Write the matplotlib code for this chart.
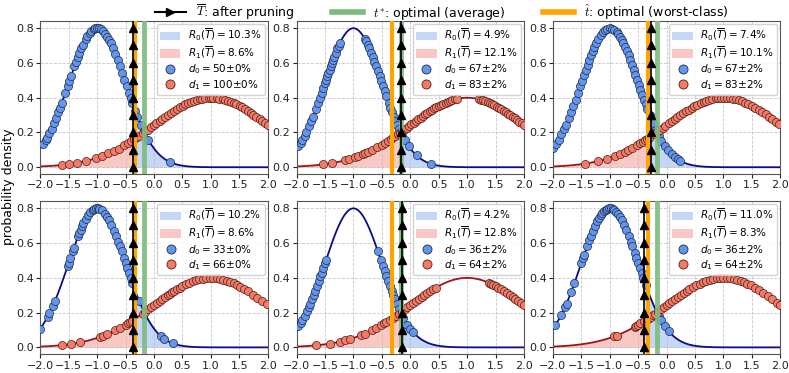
# =========================
# 1. IMPORT LIBRARIES
# =========================
import numpy as np
import matplotlib.pyplot as plt
from matplotlib.lines import Line2D
from matplotlib.patches import Patch
from matplotlib.font_manager import FontProperties


# =========================
# 2. DATA
# =========================
mu0, sd0 = -1.0, 0.5      # class 0 density
mu1, sd1 = 1.0, 1.0       # class 1 density
t_star = -0.17            # optimal (average)
t_hat = -0.33             # optimal (worst-class)

t_bar = [-0.37, -0.17, -0.28, -0.37, -0.14, -0.39]
r0_text = ["10.3", "4.9", "7.4", "10.2", "4.2", "11.0"]
r1_text = ["8.6", "12.1", "10.1", "8.6", "12.8", "8.3"]
d0_text = ["50{\\pm}0", "67{\\pm}2", "67{\\pm}2", "33{\\pm}0", "36{\\pm}2", "36{\\pm}2"]
d1_text = ["100{\\pm}0", "83{\\pm}2", "83{\\pm}2", "66{\\pm}0", "64{\\pm}2", "64{\\pm}2"]

x0_p1 = [-1.95, -1.9, -1.88, -1.84, -1.8, -1.76, -1.72, -1.68, -1.65, -1.62,
         -1.56, -1.52, -1.49, -1.46, -1.4, -1.37, -1.34, -1.31, -1.28, -1.25,
         -1.2, -1.17, -1.13, -1.1, -1.06, -1.03, -1.0, -0.97, -0.94, -0.9,
         -0.86, -0.82, -0.79, -0.76, -0.72, -0.68, -0.64, -0.6, -0.56, -0.52,
         -0.48, -0.44, -0.41, -0.38, -0.33, -0.29, -0.23, -0.18, -0.1, 0.28]
x1_p1 = [-1.62, -1.5, -1.36, -1.2, -1.02, -0.92, -0.8, -0.7, -0.62, -0.52,
         -0.45, -0.4, -0.35, -0.3, -0.26, -0.2, -0.15, -0.11, -0.05, 0.0,
         0.04, 0.1, 0.15, 0.19, 0.25, 0.3, 0.36, 0.4, 0.45, 0.51, 0.55, 0.6,
         0.66, 0.7, 0.75, 0.81, 0.85, 0.9, 0.96, 1.0, 1.04, 1.1, 1.15, 1.21,
         1.25, 1.3, 1.36, 1.4, 1.45, 1.51, 1.55, 1.6, 1.66, 1.7, 1.75, 1.8,
         1.86, 1.9, 1.95, 2.0]

x0_p2 = [-1.97, -1.93, -1.9, -1.86, -1.83, -1.78, -1.74, -1.71, -1.66, -1.62,
         -1.59, -1.56, -1.53, -1.5, -1.48, -1.46, -1.44, -1.42, -1.4, -1.38,
         -1.36, -1.34, -1.31, -1.28, -1.26, -1.24, -0.8, -0.78, -0.75, -0.72,
         -0.69, -0.66, -0.63, -0.6, -0.57, -0.54, -0.51, -0.48, -0.45, -0.42,
         -0.38, -0.35, -0.32, -0.29, -0.26, -0.23, -0.2, -0.17, -0.14, -0.1,
         -0.03, 0.11, 0.36]
x1_p2 = [-1.53, -1.38, -1.15, -1.08, -0.98, -0.92, -0.84, -0.79, -0.74, -0.68,
         -0.58, -0.5, -0.44, -0.39, -0.34, -0.3, -0.26, -0.22, -0.18, -0.14,
         -0.1, -0.06, -0.02, 0.02, 0.06, 0.1, 0.14, 0.18, 0.22, 0.26, 0.3,
         0.34, 0.38, 0.42, 0.46, 0.5, 0.54, 0.58, 0.62, 0.66, 0.7, 0.74, 0.78,
         0.82, 1.2, 1.24, 1.28, 1.32, 1.36, 1.4, 1.44, 1.48, 1.52, 1.56, 1.6,
         1.64, 1.68, 1.72, 1.76, 1.8, 1.84, 1.88, 1.92, 1.96, 2.0]

x0_p3 = [-1.99, -1.95, -1.9, -1.85, -1.8, -1.77, -1.72, -1.68, -1.64, -1.6,
         -1.56, -1.52, -1.49, -1.45, -1.42, -1.39, -1.36, -1.33, -1.3, -1.27,
         -1.24, -1.2, -1.16, -1.12, -1.08, -1.04, -1.0, -0.96, -0.92, -0.88,
         -0.85, -0.82, -0.79, -0.76, -0.73, -0.7, -0.67, -0.64, -0.61, -0.58,
         -0.55, -0.52, -0.49, -0.46, -0.43, -0.4, -0.37, -0.34, -0.3, -0.27,
         -0.24, -0.19, -0.14, -0.09, -0.03, 0.02, 0.09, 0.15, 0.2, 0.24]
x1_p3 = [-1.44, -1.2, -1.05, -0.9, -0.82, -0.74, -0.68, -0.6, -0.52, -0.46,
         -0.42, -0.38, -0.35, -0.31, -0.22, -0.17, -0.12, -0.07, -0.02, 0.04,
         0.09, 0.14, 0.19, 0.24, 0.29, 0.34, 0.39, 0.44, 0.49, 0.54, 0.6,
         0.65, 0.7, 0.75, 0.8, 0.86, 0.91, 0.96, 1.01, 1.06, 1.11, 1.16, 1.22,
         1.27, 1.32, 1.38, 1.44, 1.5, 1.56, 1.62, 1.68, 1.74, 1.8, 1.86, 1.92,
         1.98]

x0_p4 = [-2.0, -1.87, -1.84, -1.78, -1.74, -1.52, -1.5, -1.47, -1.43, -1.41,
         -1.33, -1.31, -1.29, -1.26, -1.24, -1.2, -1.16, -1.12, -1.08, -1.05,
         -1.02, -0.99, -0.96, -0.92, -0.86, -0.82, -0.79, -0.75, -0.7, -0.67,
         -0.63, -0.6, -0.57, -0.53, -0.5, -0.47, -0.44, -0.41, -0.38, -0.26,
         0.12, 0.18, 0.33]
x1_p4 = [-1.62, -1.46, -1.3, -0.95, -0.9, -0.82, -0.68, -0.6, -0.5, -0.46,
         -0.42, -0.38, -0.2, -0.15, -0.1, -0.05, 0.0, 0.05, 0.1, 0.15, 0.2,
         0.24, 0.28, 0.32, 0.36, 0.4, 0.45, 0.5, 0.56, 0.62, 0.68, 0.74, 0.8,
         0.86, 0.92, 0.98, 1.04, 1.1, 1.16, 1.22, 1.28, 1.34, 1.4, 1.46, 1.52,
         1.58, 1.66, 1.74, 1.82, 1.9, 1.98]

x0_p5 = [-1.97, -1.93, -1.9, -1.86, -1.82, -1.79, -1.76, -1.73, -1.7, -1.67,
         -1.64, -1.61, -1.58, -1.56, -1.53, -1.5, -1.48, -0.57, -0.52, -0.48,
         -0.45, -0.42, -0.39, -0.36, -0.33, -0.3, -0.27, -0.24, -0.2, -0.16,
         -0.12, -0.05, 0.0, 0.05]
x1_p5 = [-1.65, -1.41, -1.24, -1.14, -1.06, -0.86, -0.8, -0.68, -0.6, -0.52,
         -0.46, -0.42, -0.36, -0.3, -0.25, -0.2, -0.15, -0.1, -0.05, 0.0,
         0.05, 0.1, 0.15, 0.2, 0.25, 0.3, 0.35, 0.4, 0.45, 1.38, 1.42, 1.46,
         1.5, 1.55, 1.6, 1.65, 1.7, 1.75, 1.8, 1.85, 1.9, 1.95, 2.0]

x0_p6 = [-1.96, -1.85, -1.79, -1.76, -1.68, -1.62, -1.5, -1.47, -1.45, -1.4,
         -1.36, -1.33, -1.3, -1.26, -1.22, -1.19, -1.16, -1.13, -1.1, -1.07,
         -1.04, -1.01, -0.98, -0.95, -0.92, -0.89, -0.86, -0.82, -0.79, -0.75,
         -0.71, -0.67, -0.63, -0.6, -0.56, -0.53, -0.5, -0.47, -0.44, -0.41,
         -0.37, -0.14, -0.1, -0.03, 0.04]
x1_p6 = [-0.92, -0.88, -0.56, -0.53, -0.5, -0.46, -0.4, -0.33, -0.28, -0.24,
         -0.2, -0.15, -0.1, -0.05, 0.0, 0.05, 0.1, 0.15, 0.2, 0.25, 0.3, 0.35,
         0.4, 0.46, 0.52, 0.58, 0.64, 0.7, 0.76, 0.82, 0.88, 0.94, 1.0, 1.06,
         1.12, 1.18, 1.24, 1.3, 1.36, 1.42, 1.48, 1.55, 1.62, 1.7, 1.78, 1.86,
         1.94, 2.0]

points0 = [x0_p1, x0_p2, x0_p3, x0_p4, x0_p5, x0_p6]
points1 = [x1_p1, x1_p2, x1_p3, x1_p4, x1_p5, x1_p6]


# =========================
# 3. HELPERS
# =========================
def pdf(x, mu, sd):
    x = np.asarray(x, dtype=float)
    return np.exp(-0.5 * ((x - mu) / sd) ** 2) / (sd * np.sqrt(2 * np.pi))


blue_pt = "#6495ED"
red_pt = "#F47A68"
blue_fill = "#6F9BEB"
red_fill = "#F7938A"
blue_line = "#0B0B8A"
red_line = "#9E1414"
green = "#7DBB7D"
orange = "#FFA500"

plt.rcParams["font.family"] = "DejaVu Sans"
plt.rcParams["mathtext.fontset"] = "dejavusans"


# =========================
# 4. PLOT
# =========================
fig, axes = plt.subplots(2, 3, figsize=(7.89, 3.73), dpi=100)
fig.subplots_adjust(left=0.051, right=0.989, top=0.944, bottom=0.05,
                    wspace=0.127, hspace=0.175)

xs = np.linspace(-2, 2, 400)
tri_y = np.linspace(0, 0.8, 9)

for i, ax in enumerate(axes.flat):
    T = t_bar[i]
    y0 = pdf(xs, mu0, sd0)
    y1 = pdf(xs, mu1, sd1)

    ax.fill_between(xs, 0, y0, where=xs >= T, color=blue_fill, alpha=0.4,
                    lw=0, zorder=1)
    ax.fill_between(xs, 0, y1, where=xs <= T, color=red_fill, alpha=0.5,
                    lw=0, zorder=1)
    ax.plot(xs, y0, color=blue_line, lw=1.3, zorder=2)
    ax.plot(xs, y1, color=red_line, lw=1.3, zorder=2)

    p0 = np.array(points0[i])
    p1 = np.array(points1[i])
    ax.scatter(p0, pdf(p0, mu0, sd0), s=34, color=blue_pt,
               edgecolors="#1c2a44", linewidths=0.5, zorder=3)
    ax.scatter(p1, pdf(p1, mu1, sd1), s=34, color=red_pt,
               edgecolors="#4a1c16", linewidths=0.5, zorder=3)

    ax.axvline(t_hat, color=orange, lw=3.0, zorder=4)
    ax.axvline(t_star, color=green, lw=3.5, alpha=0.9, zorder=4)
    ax.axvline(T, color="black", lw=1.2, zorder=5)
    ax.plot([T] * len(tri_y), tri_y, ls="none", marker="^", ms=5.8,
            color="black", zorder=5)

    ax.set_xlim(-2, 2)
    ax.set_ylim(-0.04, 0.84)
    ax.set_xticks([-2.0, -1.5, -1.0, -0.5, 0.0, 0.5, 1.0, 1.5, 2.0])
    ax.set_yticks([0.0, 0.2, 0.4, 0.6, 0.8])
    ax.tick_params(labelsize=8, length=3, width=0.8, pad=1.5,
                   colors="#222222")
    ax.grid(True, ls="--", lw=0.6, color="#bbbbbb", alpha=0.8)
    for sp in ax.spines.values():
        sp.set_color("#555555")
        sp.set_linewidth(0.8)

    handles = [
        Patch(facecolor=blue_fill, alpha=0.4, edgecolor="none"),
        Patch(facecolor=red_fill, alpha=0.5, edgecolor="none"),
        Line2D([], [], ls="none", marker="o", ms=6.5, color=blue_pt,
               markeredgecolor="#1c2a44", markeredgewidth=0.6),
        Line2D([], [], ls="none", marker="o", ms=6.5, color=red_pt,
               markeredgecolor="#4a1c16", markeredgewidth=0.6),
    ]
    labels = [
        r"$R_0(\overline{T})=%s\%%$" % r0_text[i],
        r"$R_1(\overline{T})=%s\%%$" % r1_text[i],
        r"$d_0=%s\%%$" % d0_text[i],
        r"$d_1=%s\%%$" % d1_text[i],
    ]
    leg = ax.legend(handles, labels, loc="upper right", fontsize=7.5,
                    framealpha=0.85, borderpad=0.3, labelspacing=0.15,
                    handlelength=2.0, handletextpad=0.7, handleheight=0.9,
                    borderaxespad=0.3)
    leg.set_zorder(10)

fig.text(0.002, 0.5, "probability density", rotation=90, va="center",
         ha="left", fontsize=9)

top_handles = [
    Line2D([], [], color="black", lw=1.5, marker=">", ms=6),
    Line2D([], [], color=green, lw=4),
    Line2D([], [], color=orange, lw=4),
]
top_labels = [
    r"$\overline{T}$: after pruning",
    r"$t^{*}$: optimal (average)",
    r"$\hat{t}$: optimal (worst-class)",
]
fig.legend(top_handles, top_labels, loc="center", ncol=3, frameon=False,
           bbox_to_anchor=(0.56, 0.968), columnspacing=3.0,
           handlelength=2.5, prop=FontProperties(size=9, math_fontfamily="cm"))

plt.savefig("out.png", dpi=100)
